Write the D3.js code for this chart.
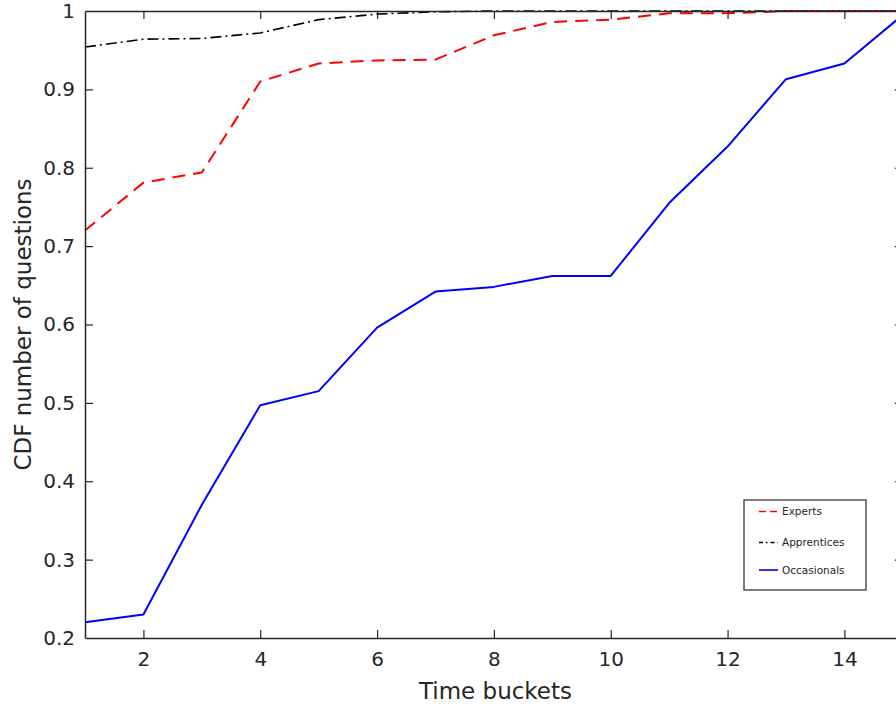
<!DOCTYPE html>
<html>
<head>
<meta charset="utf-8">
<script src="https://cdn.jsdelivr.net/npm/d3@7"></script>
<style>
  html, body { margin: 0; padding: 0; background: #fff; overflow: hidden; }
  svg { display: block; font-family: "DejaVu Sans", sans-serif; }
</style>
</head>
<body>
<svg id="chart" width="896" height="707"></svg>
<script>
// ---- data ----
const buckets = [1, 2, 3, 4, 5, 6, 7, 8, 9, 10, 11, 12, 13, 14, 15];
const experts     = [0.720, 0.781, 0.794, 0.910, 0.933, 0.937, 0.938, 0.969, 0.986, 0.989, 0.997, 0.997, 1.000, 1.000, 1.000];
const apprentices = [0.954, 0.964, 0.965, 0.972, 0.989, 0.996, 0.999, 1.000, 1.000, 1.000, 1.000, 1.000, 1.000, 1.000, 1.000];
const occasionals = [0.220, 0.230, 0.370, 0.497, 0.515, 0.596, 0.642, 0.648, 0.662, 0.662, 0.755, 0.827, 0.913, 0.933, 0.995];
const xTicks = [2, 4, 6, 8, 10, 12, 14];
const yTicks = [0.2, 0.3, 0.4, 0.5, 0.6, 0.7, 0.8, 0.9, 1];
const seriesNames = ["Experts", "Apprentices", "Occasionals"];
const xLabel = "Time buckets";
const yLabel = "CDF number of questions";

// ---- layout ----
const svg = d3.select("#chart");
const mLeft = 85, mRight = 902.8, mTop = 11, mBottom = 638;
const axisColor = "#262626";
const x = d3.scaleLinear().domain([1, 15]).range([mLeft, mRight]);
const y = d3.scaleLinear().domain([0.2, 1]).range([mBottom, mTop]);

const styles = [
  { data: experts,     color: "#ff0000", width: 2,   dash: "13,8" },
  { data: apprentices, color: "#000000", width: 1.6, dash: "11,4,2,4" },
  { data: occasionals, color: "#0000ff", width: 2,   dash: null }
];

// lines
const line = d3.line().x((d, i) => x(buckets[i])).y(d => y(d));
const plot = svg.append("g");
styles.forEach(s => {
  plot.append("path")
    .datum(s.data)
    .attr("d", line)
    .attr("fill", "none")
    .attr("stroke", s.color)
    .attr("stroke-width", s.width)
    .attr("stroke-dasharray", s.dash)
    .attr("stroke-linejoin", "round");
});

// axes
const fmt = d => (d === 1 ? "1" : d3.format(".1f")(d));
const tickLen = 8;
const gB = svg.append("g").attr("transform", `translate(0,${mBottom})`)
  .call(d3.axisBottom(x).tickValues(xTicks).tickSize(-tickLen).tickPadding(14).tickSizeOuter(0));
const gT = svg.append("g").attr("transform", `translate(0,${mTop})`)
  .call(d3.axisTop(x).tickValues(xTicks).tickSize(-tickLen).tickFormat("").tickSizeOuter(0));
const gL = svg.append("g").attr("transform", `translate(${mLeft},0)`)
  .call(d3.axisLeft(y).tickValues(yTicks).tickSize(-tickLen).tickPadding(10).tickFormat(fmt).tickSizeOuter(0));
const gR = svg.append("g").attr("transform", `translate(${mRight},0)`)
  .call(d3.axisRight(y).tickValues(yTicks).tickSize(-tickLen).tickFormat("").tickSizeOuter(0));

[gB, gT, gL, gR].forEach(g => {
  g.select(".domain").attr("stroke", axisColor).attr("stroke-width", 1.5);
  g.selectAll(".tick line").attr("stroke", axisColor).attr("stroke-width", 1.2);
  g.selectAll(".tick text").attr("fill", axisColor).attr("font-size", 20)
    .attr("font-family", "DejaVu Sans, sans-serif");
});
gL.selectAll(".tick line").filter(d => d === 0.2 || d === 1).remove();
gR.selectAll(".tick line").filter(d => d === 0.2 || d === 1).remove();

// axis labels
svg.append("text")
  .attr("x", (mLeft + 906) / 2)
  .attr("y", 699)
  .attr("text-anchor", "middle")
  .attr("font-size", 23)
  .attr("fill", axisColor)
  .text(xLabel);
svg.append("text")
  .attr("transform", `translate(31,${(mTop + mBottom) / 2}) rotate(-90)`)
  .attr("text-anchor", "middle")
  .attr("font-size", 23)
  .attr("fill", axisColor)
  .text(yLabel);

// legend
const lg = svg.append("g").attr("transform", "translate(744,500)");
lg.append("rect").attr("x", 0).attr("y", 0).attr("width", 122).attr("height", 90)
  .attr("fill", "#fff").attr("stroke", axisColor).attr("stroke-width", 1.2);
const rowY = [11.5, 42.5, 70];
styles.forEach((s, i) => {
  lg.append("line")
    .attr("x1", 15).attr("x2", 34)
    .attr("y1", rowY[i]).attr("y2", rowY[i])
    .attr("stroke", s.color).attr("stroke-width", s.width === 2 ? 1.6 : 1.3)
    .attr("stroke-dasharray", s.dash ? (i === 0 ? "7,4" : "4,3,1.5,3") : null);
  lg.append("text")
    .attr("x", 38).attr("y", rowY[i]).attr("dy", "0.35em")
    .attr("font-size", 10.5).attr("fill", axisColor)
    .text(seriesNames[i]);
});
</script>
</body>
</html>
